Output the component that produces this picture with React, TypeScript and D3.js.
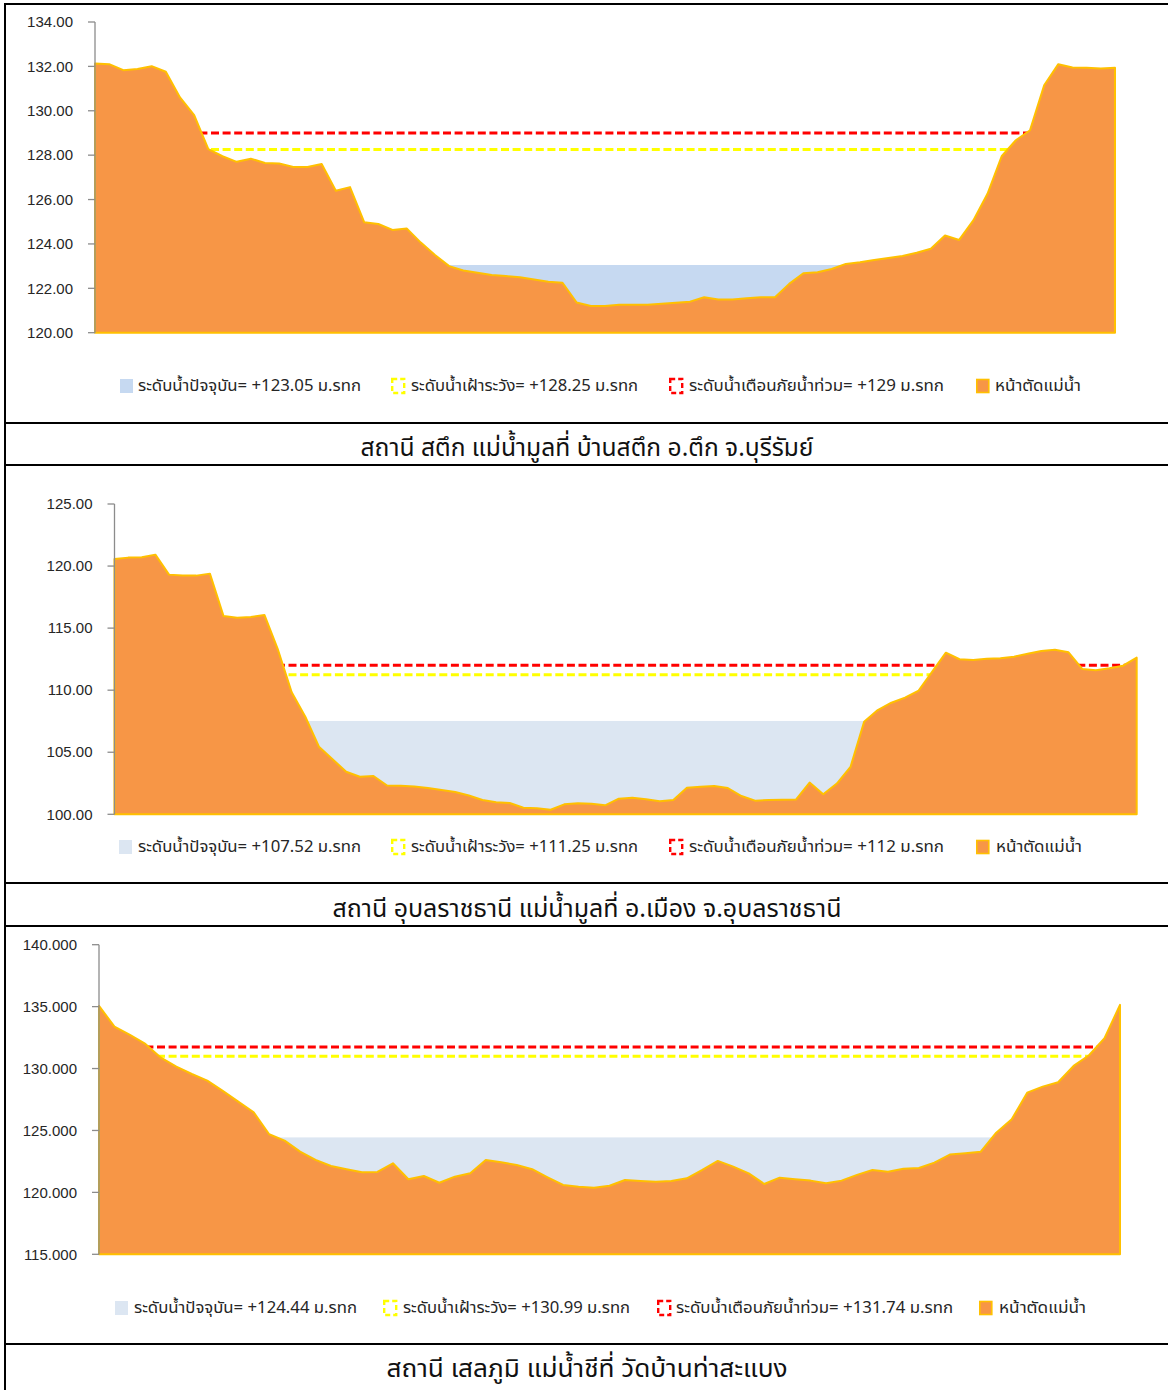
import React from "react";
import * as d3 from "d3";

// ---------- DATA ----------
const ground1 = [
  132.13, 132.1, 131.83, 131.88, 132.01, 131.76, 130.6, 129.8, 128.27, 127.95,
  127.7, 127.84, 127.65, 127.62, 127.47, 127.47, 127.6, 126.4, 126.56, 124.98,
  124.9, 124.63, 124.7, 124.06, 123.5, 123.0, 122.8, 122.7, 122.6, 122.55,
  122.5, 122.4, 122.3, 122.25, 121.36, 121.2, 121.2, 121.26, 121.26, 121.26,
  121.3, 121.35, 121.4, 121.6, 121.5, 121.5, 121.55, 121.6, 121.6, 122.2,
  122.68, 122.72, 122.87, 123.1, 123.17, 123.28, 123.37, 123.46, 123.6, 123.78,
  124.38, 124.18, 125.06, 126.26, 127.95, 128.67, 129.12, 131.15, 132.1, 131.95,
  131.94, 131.91, 131.94,
];
const ground2 = [
  120.57, 120.68, 120.71, 120.92, 119.31, 119.23, 119.23, 119.39, 115.98, 115.84,
  115.9, 116.06, 113.24, 109.83, 107.86, 105.45, 104.43, 103.43, 103.03, 103.09,
  102.32, 102.3, 102.24, 102.12, 101.96, 101.8, 101.51, 101.15, 100.97, 100.91,
  100.53, 100.48, 100.37, 100.8, 100.89, 100.85, 100.72, 101.26, 101.34, 101.21,
  101.05, 101.15, 102.14, 102.22, 102.28, 102.12, 101.47, 101.1, 101.15, 101.18,
  101.19, 102.56, 101.61, 102.48, 103.81, 107.46, 108.4, 108.99, 109.4, 109.96,
  111.49, 113.02, 112.49, 112.43, 112.54, 112.57, 112.7, 112.94, 113.16, 113.26,
  113.05, 111.71, 111.6, 111.76, 111.97, 112.62,
];
const ground3 = [
  135.06, 133.38, 132.71, 131.99, 130.88, 130.15, 129.56, 129.02, 128.19, 127.33,
  126.47, 124.69, 124.18, 123.29, 122.62, 122.13, 121.87, 121.62, 121.65, 122.35,
  121.06, 121.32, 120.78, 121.27, 121.54, 122.62, 122.43, 122.21, 121.87, 121.22,
  120.6, 120.46, 120.38, 120.54, 121.0, 120.92, 120.86, 120.92, 121.14, 121.81,
  122.54, 122.08, 121.54, 120.68, 121.19, 121.06, 120.95, 120.74, 120.95, 121.41,
  121.81, 121.67, 121.91, 121.97, 122.4, 123.05, 123.16, 123.29, 124.82, 125.9,
  128.05, 128.54, 128.89, 130.21, 131.07, 132.45, 135.14,
];

const ticks1 = [120, 122, 124, 126, 128, 130, 132, 134];
const ticks2 = [100, 105, 110, 115, 120, 125];
const ticks3 = [115, 120, 125, 130, 135, 140];

// current level, watch level, warning level
const levels1 = [123.05, 128.25, 129];
const levels2 = [107.52, 111.25, 112];
const levels3 = [124.44, 130.99, 131.74];

const legend1 = ["ระดับน้ำปัจจุบัน= +123.05 ม.รทก", "ระดับน้ำเฝ้าระวัง= +128.25 ม.รทก", "ระดับน้ำเตือนภัยน้ำท่วม= +129 ม.รทก", "หน้าตัดแม่น้ำ"];
const legend2 = ["ระดับน้ำปัจจุบัน= +107.52 ม.รทก", "ระดับน้ำเฝ้าระวัง= +111.25 ม.รทก", "ระดับน้ำเตือนภัยน้ำท่วม= +112 ม.รทก", "หน้าตัดแม่น้ำ"];
const legend3 = ["ระดับน้ำปัจจุบัน= +124.44 ม.รทก", "ระดับน้ำเฝ้าระวัง= +130.99 ม.รทก", "ระดับน้ำเตือนภัยน้ำท่วม= +131.74 ม.รทก", "หน้าตัดแม่น้ำ"];

const titles = [
  "สถานี สตึก แม่น้ำมูลที่ บ้านสตึก อ.ตึก จ.บุรีรัมย์",
  "สถานี อุบลราชธานี แม่น้ำมูลที่ อ.เมือง จ.อุบลราชธานี",
  "สถานี เสลภูมิ แม่น้ำชีที่ วัดบ้านท่าสะแบง",
];

// ---------- LAYOUT ----------
const panels = [
  {
    ground: ground1, ticks: ticks1, levels: levels1, legend: legend1, fmt: ".2f",
    x0: 95, x1: 1115, yTop: 22, yBot: 332.7, blue: "#c6d9f1",
    legendY: 386, iconX: [120, 391, 669, 976], textX: [138, 411, 689, 995],
    textW: [223, 227, 255, 86],
    titleY: 447, titleW: 453,
  },
  {
    ground: ground2, ticks: ticks2, levels: levels2, legend: legend2, fmt: ".2f",
    x0: 114.5, x1: 1136.7, yTop: 504, yBot: 814.3, blue: "#dce6f2",
    legendY: 847, iconX: [119, 391, 669, 976], textX: [138, 411, 689, 996],
    textW: [223, 227, 255, 86],
    titleY: 908, titleW: 509,
  },
  {
    ground: ground3, ticks: ticks3, levels: levels3, legend: legend3, fmt: ".3f",
    x0: 99, x1: 1120, yTop: 944.7, yBot: 1254.3, blue: "#dce6f2",
    legendY: 1308, iconX: [115, 383, 657, 979], textX: [134, 403, 676, 999],
    textW: [223, 227, 277, 87],
    titleY: 1368, titleW: 401,
  },
];

const hLines = [4, 423, 465, 883, 926, 1344];

const THAI = "Tahoma, 'Noto Sans Thai', 'Loma', 'Garuda', 'DejaVu Sans', sans-serif";

function Panel({ p }: { p: any }) {
  const n = p.ground.length;
  const x = d3.scaleLinear().domain([0, n - 1]).range([p.x0, p.x1]);
  const y = d3
    .scaleLinear()
    .domain([p.ticks[0], p.ticks[p.ticks.length - 1]])
    .range([p.yBot, p.yTop]);
  const area = d3
    .area<number>()
    .x((_, i) => x(i))
    .y0(y(p.ticks[0]))
    .y1((d) => y(d));
  const f = d3.format(p.fmt);
  const [cur, watch, warn] = p.levels;
  const iconColors = ["#ffff00", "#ff0000"];
  return (
    <g>
      {/* current water level */}
      <rect x={x(0)} y={y(cur)} width={x(n - 1) - x(0)} height={y(p.ticks[0]) - y(cur)} fill={p.blue} />
      {/* watch & warning lines */}
      <line x1={x(0)} x2={x(n - 1)} y1={y(watch)} y2={y(watch)} stroke="#ffff00" strokeWidth={3} strokeDasharray="8,3.6" />
      <line x1={x(0)} x2={x(n - 1)} y1={y(warn)} y2={y(warn)} stroke="#ff0000" strokeWidth={3} strokeDasharray="8,3.6" />
      {/* river cross-section */}
      <path d={area(p.ground) || ""} fill="#f79646" stroke="#ffc000" strokeWidth={2} strokeLinejoin="round" />
      {/* axis */}
      <line x1={p.x0} x2={p.x0} y1={p.yTop} y2={p.yBot} stroke="#8c8c8c" strokeWidth={1.3} />
      {p.ticks.map((t: number) => (
        <g key={t}>
          <line x1={p.x0 - 7} x2={p.x0} y1={y(t)} y2={y(t)} stroke="#8c8c8c" strokeWidth={1.3} />
          <text x={p.x0 - 22} y={y(t)} dy="0.35em" textAnchor="end" fontFamily="'Liberation Sans', Arial, sans-serif" fontSize={15} fill="#262626">
            {f(t)}
          </text>
        </g>
      ))}
      {/* legend */}
      <rect x={p.iconX[0]} y={p.legendY - 7} width={13} height={14} fill={p.blue} />
      {iconColors.map((c, k) => (
        <rect key={c} x={p.iconX[k + 1] + 1.2} y={p.legendY - 7} width={12} height={14} fill="none" stroke={c} strokeWidth={2.4} strokeDasharray="5,3" />
      ))}
      <rect x={p.iconX[3] + 0.8} y={p.legendY - 6.5} width={12} height={13} fill="#f79646" stroke="#ffc000" strokeWidth={1.6} />
      {p.legend.map((s: string, k: number) => (
        <text key={k} x={p.textX[k]} y={p.legendY} dy="0.35em" fontFamily={THAI} fontSize={15.5}
          textLength={p.textW[k]} lengthAdjust="spacingAndGlyphs" fill="#262626">
          {s}
        </text>
      ))}
    </g>
  );
}

export default function App() {
  return (
    <div style={{ position: "absolute", left: 0, top: 0 }}>
      <svg width={1168} height={1390} viewBox="0 0 1168 1390" style={{ display: "block", background: "#fff" }}>
        <rect x={0} y={0} width={1168} height={1390} fill="#fff" />
        {panels.map((p, i) => (
          <Panel key={i} p={p} />
        ))}
        {titles.map((t, i) => (
          <text key={i} x={587} y={panels[i].titleY} dy="0.35em" textAnchor="middle" fontFamily={THAI} fontSize={25.5}
            textLength={panels[i].titleW} lengthAdjust="spacingAndGlyphs" fill="#111">
            {t}
          </text>
        ))}
        {/* frame lines */}
        <line x1={5} x2={5} y1={4} y2={1390} stroke="#000" strokeWidth={2} />
        {hLines.map((yy) => (
          <line key={yy} x1={4} x2={1168} y1={yy} y2={yy} stroke="#000" strokeWidth={2} />
        ))}
      </svg>
    </div>
  );
}
